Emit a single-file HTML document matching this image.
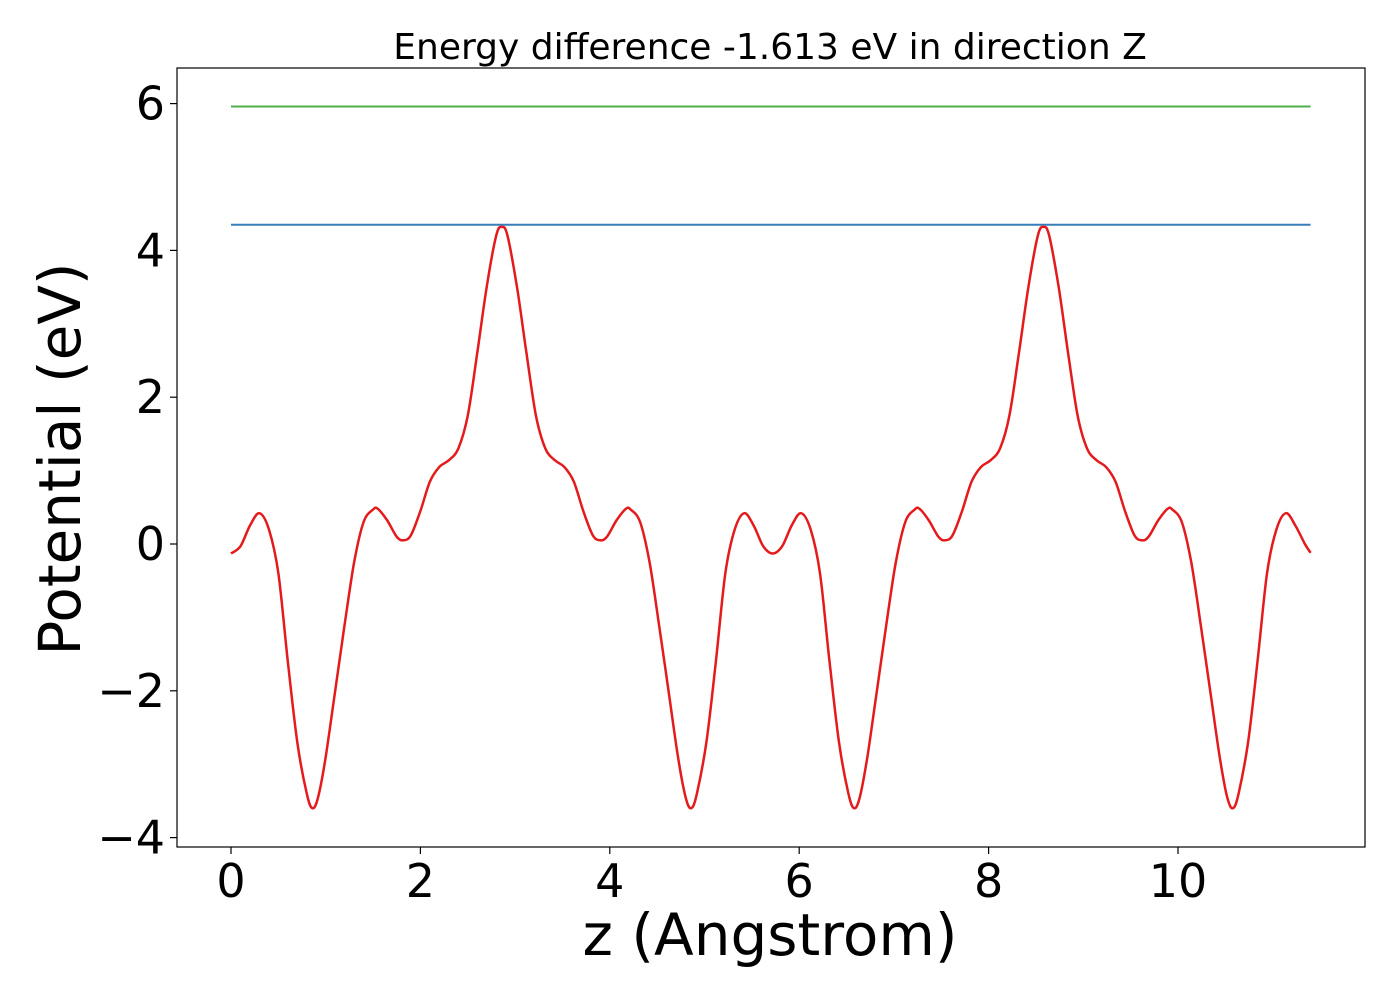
<!DOCTYPE html>
<html><head><meta charset="utf-8"><style>
html,body{margin:0;padding:0;background:#fff;}
svg{display:block;font-family:"DejaVu Sans","Liberation Sans",sans-serif;}
</style></head><body>
<svg id="chart" width="1400" height="1000" viewBox="0 0 1400 1000" xmlns="http://www.w3.org/2000/svg">
<rect x="0" y="0" width="1400" height="1000" fill="#fff"/>
<text x="770" y="59" font-size="36" text-anchor="middle">Energy difference -1.613 eV in direction Z</text>
<g id="axes"></g>
<g id="series"></g>
<rect x="177" y="68" width="1188" height="779" fill="none" stroke="#000" stroke-width="1.2"/>
<text x="770" y="955" font-size="58" text-anchor="middle">z (Angstrom)</text>
<text transform="translate(80,459) rotate(-90)" font-size="58" text-anchor="middle">Potential (eV)</text>
</svg>
<script>
const zValues = [0,0.1,0.2,0.3,0.4,0.5,0.6,0.7,0.8,0.86,0.92,1.0,1.1,1.2,1.3,1.4,1.5,1.55,1.65,1.75,1.82,1.9,2.0,2.1,2.2,2.3,2.4,2.5,2.6,2.7,2.8,2.86,
2.92,3.02,3.12,3.22,3.32,3.42,3.52,3.62,3.72,3.82,3.9,3.97,4.07,4.17,4.22,4.32,4.42,4.52,4.62,4.72,4.8,4.86,4.92,5.02,5.12,5.22,5.32,5.42,5.52,5.62,5.72,
5.82,5.92,6.02,6.12,6.22,6.32,6.42,6.52,6.58,6.64,6.72,6.82,6.92,7.02,7.12,7.22,7.27,7.37,7.47,7.54,7.62,7.72,7.82,7.92,8.02,8.12,8.22,8.32,8.42,8.52,8.58,
8.64,8.74,8.84,8.94,9.04,9.14,9.24,9.34,9.44,9.54,9.62,9.69,9.79,9.89,9.94,10.04,10.14,10.24,10.34,10.44,10.52,10.58,10.64,10.74,10.84,10.94,11.04,11.14,11.24,11.34,11.4];
const potentialValues = [-0.13,-0.03,0.25,0.42,0.2,-0.4,-1.6,-2.7,-3.4,-3.6,-3.45,-2.9,-2.0,-1.1,-0.25,0.3,0.47,0.48,0.32,0.1,0.05,0.12,0.45,0.85,1.05,1.14,1.3,1.75,2.6,3.5,4.2,4.32,
4.2,3.5,2.6,1.75,1.3,1.14,1.05,0.85,0.45,0.12,0.05,0.1,0.32,0.48,0.47,0.3,-0.25,-1.1,-2.0,-2.9,-3.45,-3.6,-3.4,-2.7,-1.6,-0.4,0.2,0.42,0.25,-0.03,-0.13,
-0.03,0.25,0.42,0.2,-0.4,-1.6,-2.7,-3.4,-3.6,-3.45,-2.9,-2.0,-1.1,-0.25,0.3,0.47,0.48,0.32,0.1,0.05,0.12,0.45,0.85,1.05,1.14,1.3,1.75,2.6,3.5,4.2,4.32,
4.2,3.5,2.6,1.75,1.3,1.14,1.05,0.85,0.45,0.12,0.05,0.1,0.32,0.48,0.47,0.3,-0.25,-1.1,-2.0,-2.9,-3.45,-3.6,-3.4,-2.7,-1.6,-0.4,0.2,0.42,0.25,0.0,-0.12];
const levelValues = [4.35, 5.96];
const levelNames = ['blue-level-line','green-level-line'];
const xTickValues = [0,2,4,6,8,10];
const yTickValues = [-4,-2,0,2,4,6];
const xRange = [0, 11.4];

const NS = 'http://www.w3.org/2000/svg';
function xs(v){ return 231 + v * 94.7; }
function ys(v){ return 544 - v * 73.4; }
function mk(tag, attrs, parent){
  const el = document.createElementNS(NS, tag);
  for (const k in attrs) el.setAttribute(k, attrs[k]);
  parent.appendChild(el);
  return el;
}
const axes = document.getElementById('axes');
const series = document.getElementById('series');
function fmt(v){ return v < 0 ? '\u2212' + Math.abs(v) : String(v); }

xTickValues.forEach(v => {
  const t = mk('line', {x1: xs(v), x2: xs(v), y1: 847, y2: 854, stroke: '#000', 'stroke-width': 1.2}, axes);
  
  
  const l = mk('text', {x: xs(v), y: 897, 'font-size': 46, 'text-anchor': 'middle'}, axes);
  l.textContent = fmt(v);
  
  
});
yTickValues.forEach(v => {
  const t = mk('line', {x1: 170, x2: 177, y1: ys(v), y2: ys(v), stroke: '#000', 'stroke-width': 1.2}, axes);
  
  
  const l = mk('text', {x: 165, y: ys(v) + 16, 'font-size': 46, 'text-anchor': 'end'}, axes);
  l.textContent = fmt(v);
  
  
});

const colors = ['#377eb8', '#4daf4a'];
levelValues.forEach((v, i) => {
  const ln = mk('line', {x1: xs(xRange[0]), x2: xs(xRange[1]), y1: ys(v), y2: ys(v), stroke: colors[i], 'stroke-width': 2}, series);
  
  
});

const P = zValues.map((z, i) => [xs(z), ys(potentialValues[i])]);
let d = 'M' + P[0][0].toFixed(1) + ',' + P[0][1].toFixed(1);
for (let i = 0; i < P.length - 1; i++) {
  const p0 = P[Math.max(i - 1, 0)], p1 = P[i], p2 = P[i + 1], p3 = P[Math.min(i + 2, P.length - 1)];
  const c1x = p1[0] + (p2[0] - p0[0]) / 6, c1y = p1[1] + (p2[1] - p0[1]) / 6;
  const c2x = p2[0] - (p3[0] - p1[0]) / 6, c2y = p2[1] - (p3[1] - p1[1]) / 6;
  d += ' C' + c1x.toFixed(1) + ',' + c1y.toFixed(1) + ' ' + c2x.toFixed(1) + ',' + c2y.toFixed(1) + ' ' + p2[0].toFixed(1) + ',' + p2[1].toFixed(1);
}
const pl = mk('path', {d: d, fill: 'none', stroke: '#e41a1c', 'stroke-width': 2.5, 'stroke-linejoin': 'round'}, series);


</script>
</body></html>
